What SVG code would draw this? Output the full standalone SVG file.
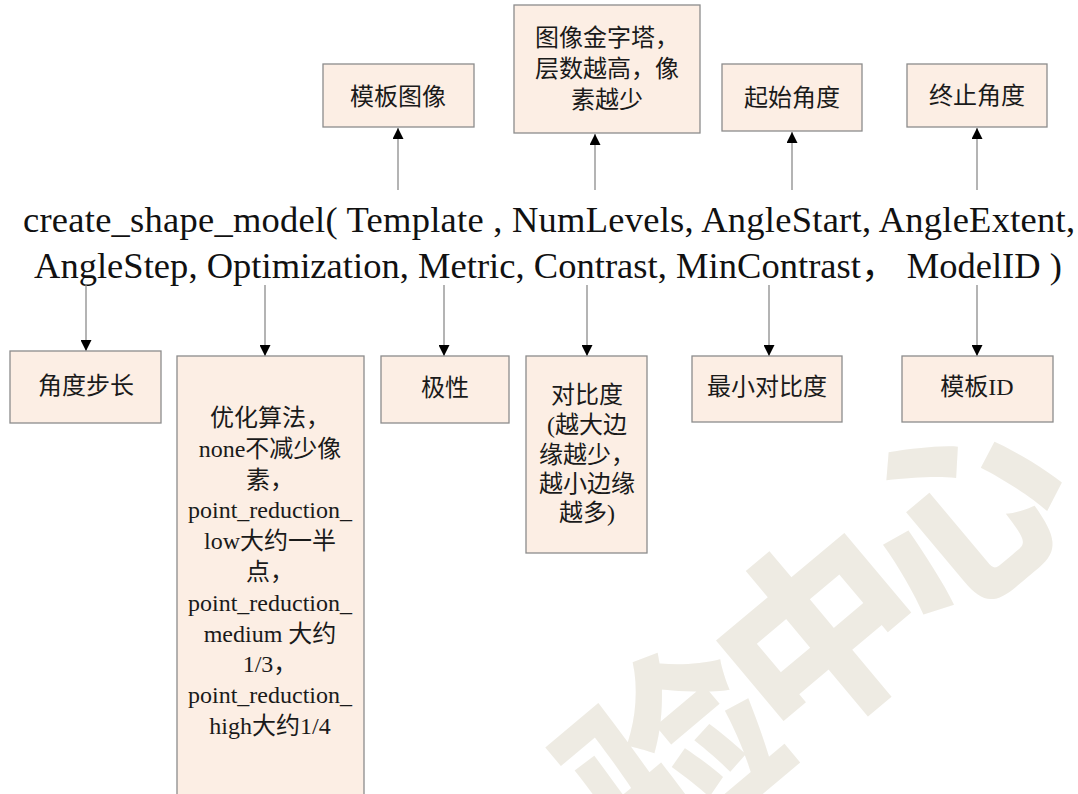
<svg xmlns="http://www.w3.org/2000/svg" width="1078" height="794" viewBox="0 0 1078 794">
  <defs>
    <style>
      .box { fill: #FCEEE4; stroke: #8C8C8C; stroke-width: 1.3; }
      .lbl { font-family: "Liberation Serif", "Noto Sans CJK SC", serif; font-size: 24px; fill: #1a1a1a; text-anchor: middle; }
      .code { font-family: "Liberation Serif", "Noto Sans CJK SC", serif; font-size: 36.5px; fill: #111; }
      .conn { stroke: #8C8C8C; stroke-width: 1.3; fill: none; marker-end: url(#ah); }
      .wm { font-family: "Noto Sans CJK SC", sans-serif; font-weight: 900; font-size: 200px; fill: #EEEBE3; text-anchor: middle; dominant-baseline: central; }
    </style>
    <marker id="ah" markerUnits="userSpaceOnUse" markerWidth="11" markerHeight="11" viewBox="0 0 11 11" refX="11" refY="5.5" orient="auto">
      <path d="M0,0 L11,5.5 L0,11 z" fill="#000"/>
    </marker>
  </defs>
  <rect width="1078" height="794" fill="#fff"/>

  <g id="watermark" transform="translate(812,625) rotate(-40)">
    <text class="wm" x="-190" y="0">验</text>
    <text class="wm" x="0" y="0">中</text>
    <text class="wm" x="186" y="0">心</text>
  </g>

  <g id="signature">
    <text class="code" x="23" y="232" textLength="1052" lengthAdjust="spacing">create_shape_model( Template , NumLevels, AngleStart, AngleExtent,</text>
    <text class="code" x="34" y="278" textLength="1028" lengthAdjust="spacing">AngleStep, Optimization, Metric, Contrast, MinContrast， ModelID  )</text>
  </g>

  <g id="connectors">
    <line class="conn" x1="398" y1="190" x2="398" y2="128"/>
    <line class="conn" x1="595" y1="190" x2="595" y2="134"/>
    <line class="conn" x1="792" y1="190" x2="792" y2="132"/>
    <line class="conn" x1="977" y1="190" x2="977" y2="128"/>
    <line class="conn" x1="86" y1="285" x2="86" y2="351"/>
    <line class="conn" x1="265" y1="285" x2="265" y2="356"/>
    <line class="conn" x1="444" y1="285" x2="444" y2="356"/>
    <line class="conn" x1="587" y1="285" x2="587" y2="356"/>
    <line class="conn" x1="769" y1="285" x2="769" y2="356"/>
    <line class="conn" x1="977" y1="285" x2="977" y2="356"/>
  </g>

  <g id="node-template">
    <rect class="box" x="323" y="64" width="151" height="63"/>
    <text class="lbl" x="398" y="105">模板图像</text>
  </g>
  <g id="node-numlevels">
    <rect class="box" x="514" y="5" width="186" height="128"/>
    <text class="lbl" x="607" y="46">图像金字塔，</text>
    <text class="lbl" x="607" y="77">层数越高，像</text>
    <text class="lbl" x="607" y="108">素越少</text>
  </g>
  <g id="node-anglestart">
    <rect class="box" x="722" y="64" width="140" height="67"/>
    <text class="lbl" x="792" y="106">起始角度</text>
  </g>
  <g id="node-angleextent">
    <rect class="box" x="907" y="64" width="140" height="63"/>
    <text class="lbl" x="977" y="104">终止角度</text>
  </g>

  <g id="node-anglestep">
    <rect class="box" x="10" y="351" width="151" height="72"/>
    <text class="lbl" x="86" y="394">角度步长</text>
  </g>
  <g id="node-optimization">
    <rect class="box" x="177" y="356" width="187" height="450"/>
    <text class="lbl" x="270" y="426">优化算法，</text>
    <text class="lbl" x="270" y="457">none不减少像</text>
    <text class="lbl" x="270" y="488">素，</text>
    <text class="lbl" x="270" y="518">point_reduction_</text>
    <text class="lbl" x="270" y="549">low大约一半</text>
    <text class="lbl" x="270" y="580">点，</text>
    <text class="lbl" x="270" y="611">point_reduction_</text>
    <text class="lbl" x="270" y="642">medium 大约</text>
    <text class="lbl" x="270" y="672">1/3，</text>
    <text class="lbl" x="270" y="703">point_reduction_</text>
    <text class="lbl" x="270" y="734">high大约1/4</text>
  </g>
  <g id="node-metric">
    <rect class="box" x="381" y="356" width="128" height="67"/>
    <text class="lbl" x="445" y="396">极性</text>
  </g>
  <g id="node-contrast">
    <rect class="box" x="526" y="356" width="121" height="197"/>
    <text class="lbl" x="587" y="403">对比度</text>
    <text class="lbl" x="587" y="433">(越大边</text>
    <text class="lbl" x="587" y="463">缘越少，</text>
    <text class="lbl" x="587" y="492">越小边缘</text>
    <text class="lbl" x="587" y="521">越多)</text>
  </g>
  <g id="node-mincontrast">
    <rect class="box" x="692" y="356" width="150" height="66"/>
    <text class="lbl" x="767" y="395">最小对比度</text>
  </g>
  <g id="node-modelid">
    <rect class="box" x="902" y="356" width="151" height="66"/>
    <text class="lbl" x="977" y="395">模板ID</text>
  </g>
</svg>
